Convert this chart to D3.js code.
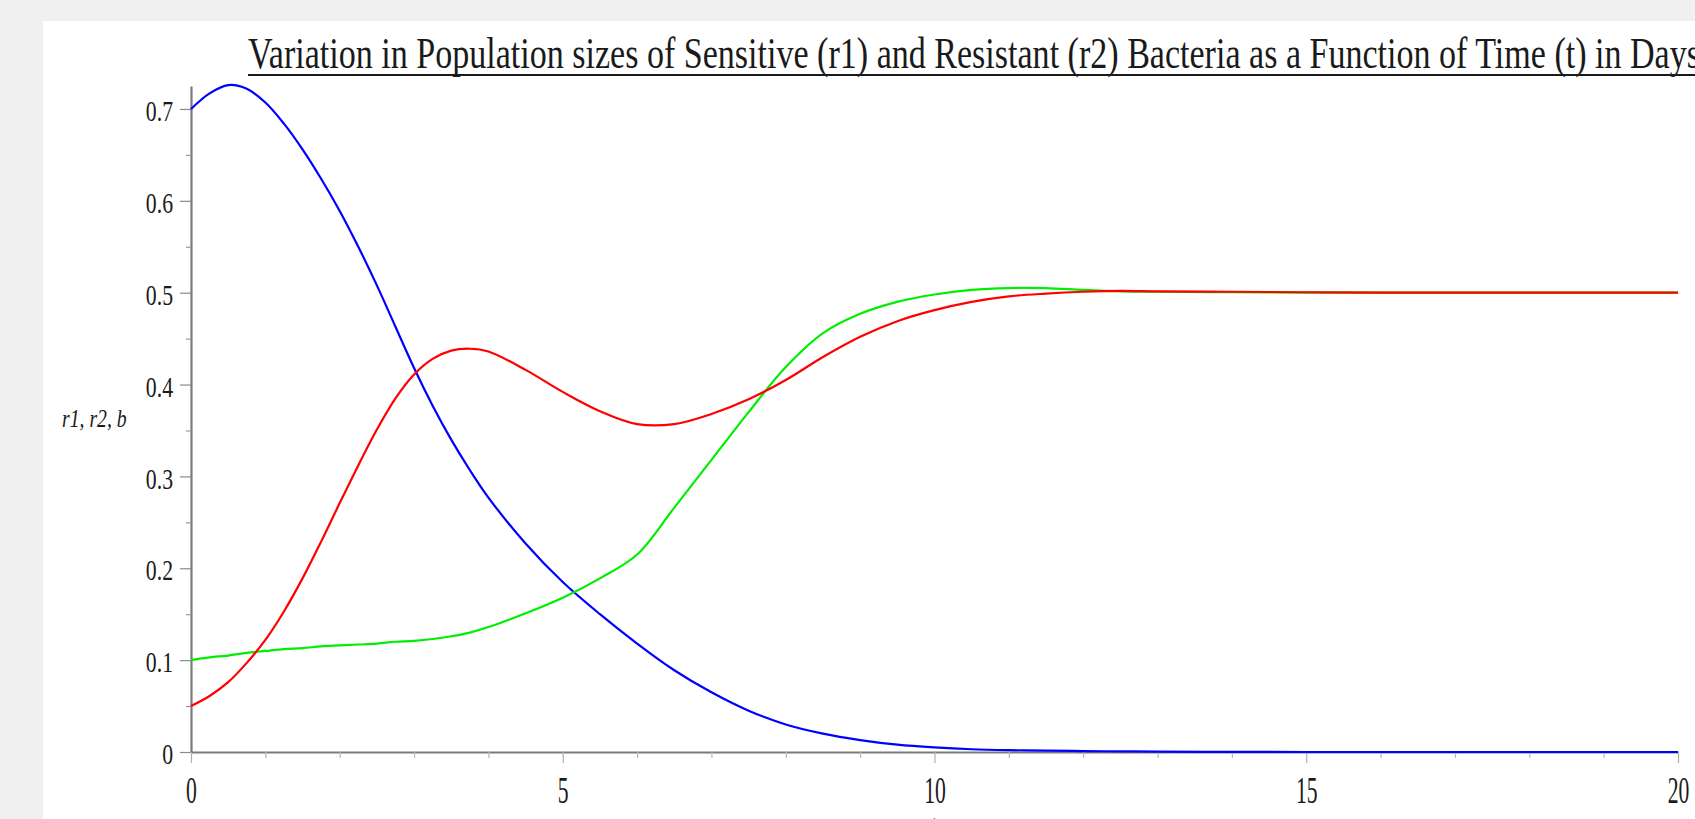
<!DOCTYPE html>
<html>
<head>
<meta charset="utf-8">
<script src="https://cdn.jsdelivr.net/npm/d3@7"></script>
<style>
  html, body { margin: 0; padding: 0; background: #f0f0f0; overflow: hidden; }
  svg { display: block; }
</style>
</head>
<body>
<svg id="chart" width="1695" height="819"></svg>
<script>
// ---------------- data ----------------
const titleText = "Variation in Population sizes of Sensitive (r1) and Resistant (r2) Bacteria as a Function of Time (t) in Days";
const yAxisLabel = "r1, r2, b";
const xAxisLabel = "t";

const timeDays = [0, 0.25, 0.5, 0.75, 1, 1.25, 1.5, 1.75, 2, 2.25, 2.5, 2.75, 3, 3.25, 3.5, 3.75, 4, 4.5, 5, 5.5,
                  6, 6.5, 7, 7.5, 8, 8.5, 9, 9.5, 10, 10.5, 11, 11.5, 12, 12.5, 13, 14, 15, 16, 18, 20];

const blueSeries = [0.700, 0.717, 0.726, 0.722, 0.707, 0.684, 0.656, 0.624, 0.589, 0.550, 0.508, 0.463, 0.418, 0.377, 0.340, 0.307, 0.277, 0.227, 0.185, 0.150,
                    0.118, 0.089, 0.065, 0.045, 0.030, 0.020, 0.013, 0.008, 0.005, 0.003, 0.002, 0.0015, 0.001, 0.0007, 0.0004, 0.0001, 0, 0, 0, 0];

const redSeries = [0.050, 0.061, 0.076, 0.097, 0.122, 0.153, 0.189, 0.229, 0.271, 0.312, 0.351, 0.385, 0.411, 0.428, 0.437, 0.439, 0.436, 0.416, 0.392, 0.371,
                   0.357, 0.357, 0.368, 0.384, 0.405, 0.430, 0.452, 0.469, 0.481, 0.490, 0.496, 0.499, 0.501, 0.502, 0.5015, 0.501, 0.5005, 0.500, 0.500, 0.500];

const greenSeries = [0.100, 0.103, 0.105, 0.108, 0.110, 0.112, 0.113, 0.115, 0.116, 0.117, 0.118, 0.120, 0.121, 0.123, 0.126, 0.130, 0.136, 0.151, 0.168, 0.189,
                     0.215, 0.266, 0.318, 0.370, 0.419, 0.456, 0.477, 0.490, 0.498, 0.503, 0.505, 0.505, 0.503, 0.5015, 0.501, 0.5005, 0.500, 0.500, 0.500, 0.500];

const xMajorTicks = [0, 5, 10, 15, 20];
const xMinorTicks = [1, 2, 3, 4, 6, 7, 8, 9, 11, 12, 13, 14, 16, 17, 18, 19];
const yMajorTicks = [0, 0.1, 0.2, 0.3, 0.4, 0.5, 0.6, 0.7];
const yMinorTicks = [0.05, 0.15, 0.25, 0.35, 0.45, 0.55, 0.65];

// ---------------- drawing ----------------
const svg = d3.select("#chart");

// white plot panel over the grey page
svg.append("rect").attr("x", 43).attr("y", 21).attr("width", 1695 - 43).attr("height", 819 - 21).attr("fill", "#ffffff");

const x = d3.scaleLinear().domain([0, 20]).range([191, 1678]);
const y = d3.scaleLinear().domain([0, 0.725]).range([752, 86]);

const serif = "'Liberation Serif', 'Times New Roman', serif";

// y axis
const yAxisG = svg.append("g").attr("transform", `translate(${x(0)},0)`)
  .call(d3.axisLeft(y).tickValues(yMajorTicks).tickSize(11).tickSizeOuter(0)
    .tickFormat(d => d === 0 ? "0" : d3.format(".1f")(d)));
yAxisG.select(".domain").attr("stroke", "#7a7a7a").attr("stroke-width", 2.2);
yAxisG.selectAll(".tick line").attr("stroke", "#8a8a8a").attr("stroke-width", 1.2);
yAxisG.selectAll(".tick text")
  .attr("font-family", serif).attr("font-size", 29).attr("fill", "#1a1a1a")
  .attr("x", -24).attr("dy", "0.4em").attr("text-anchor", "end")
  .attr("transform", "scale(0.75,1)");

const yMinorG = svg.append("g").attr("transform", `translate(${x(0)},0)`)
  .call(d3.axisLeft(y).tickValues(yMinorTicks).tickSize(5).tickSizeOuter(0).tickFormat(""));
yMinorG.select(".domain").remove();
yMinorG.selectAll(".tick line").attr("stroke", "#9a9a9a").attr("stroke-width", 1.2);

// x axis
const xAxisG = svg.append("g").attr("transform", `translate(0,${y(0)})`)
  .call(d3.axisBottom(x).tickValues(xMajorTicks).tickSize(11).tickSizeOuter(0).tickFormat(d3.format("d")));
xAxisG.select(".domain").attr("stroke", "#7a7a7a").attr("stroke-width", 2.2);
xAxisG.selectAll(".tick line").attr("stroke", "#b0b0b0").attr("stroke-width", 1.2);
xAxisG.selectAll(".tick text")
  .attr("font-family", serif).attr("font-size", 38).attr("fill", "#1a1a1a")
  .attr("y", 51).attr("dy", 0).attr("text-anchor", "middle")
  .attr("transform", "scale(0.57,1)");

const xMinorG = svg.append("g").attr("transform", `translate(0,${y(0)})`)
  .call(d3.axisBottom(x).tickValues(xMinorTicks).tickSize(6).tickSizeOuter(0).tickFormat(""));
xMinorG.select(".domain").remove();
xMinorG.selectAll(".tick line").attr("stroke", "#b8b8b8").attr("stroke-width", 1.2);

// curves
const series = [
  { name: "r1", values: blueSeries, color: "#0000ff" },
  { name: "b", values: greenSeries, color: "#00ee00" },
  { name: "r2", values: redSeries, color: "#ff0000" }
];
const line = d3.line().x(d => x(d[0])).y(d => y(d[1])).curve(d3.curveCatmullRom.alpha(0.5));
svg.append("g").selectAll("path").data(series).join("path")
  .attr("d", s => line(timeDays.map((t, i) => [t, s.values[i]])))
  .attr("fill", "none")
  .attr("stroke", s => s.color)
  .attr("stroke-width", 2.2)
  .attr("stroke-linejoin", "round");

// axis labels
svg.append("text")
  .attr("transform", "translate(62,427) scale(0.76,1)")
  .attr("font-family", serif).attr("font-style", "italic").attr("font-size", 26).attr("fill", "#1a1a1a")
  .text(yAxisLabel);

svg.append("text")
  .attr("transform", `translate(${x(10)},840) scale(0.57,1)`)
  .attr("text-anchor", "middle")
  .attr("font-family", serif).attr("font-size", 38).attr("fill", "#1a1a1a")
  .text(xAxisLabel);

// title (underlined)
svg.append("text")
  .attr("x", 248).attr("y", 68)
  .attr("font-family", serif).attr("font-size", 45).attr("fill", "#1a1a1a")
  .attr("textLength", 1452).attr("lengthAdjust", "spacingAndGlyphs")
  .text(titleText);
svg.append("line")
  .attr("x1", 248).attr("x2", 1700).attr("y1", 75).attr("y2", 75)
  .attr("stroke", "#1a1a1a").attr("stroke-width", 2);
</script>
</body>
</html>
